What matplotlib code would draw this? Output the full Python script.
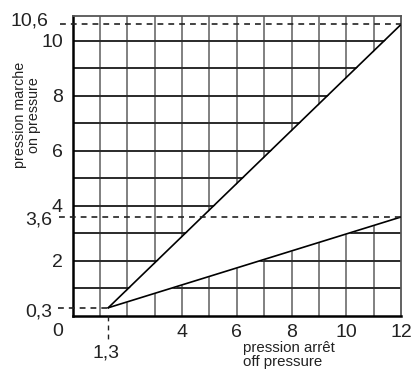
import numpy as np
import matplotlib.pyplot as plt

plt.rcParams['font.family'] = ['Liberation Sans', 'DejaVu Sans']

# data
x_ticks = [4, 6, 8, 10, 12]
y_ticks = [2, 4, 6, 8, 10]
grid_x = list(range(1, 12))
grid_y = list(range(1, 11))

start = (1.3, 0.3)
upper_end = (12, 10.6)
lower_end = (12, 3.6)

fig = plt.figure(figsize=(4.14, 3.77), dpi=100)
ax = fig.add_axes([0.1756, 0.1618, 0.7930, 0.7966])
ax.set_xlim(0, 12)
ax.set_ylim(0, 10.92)

# grid
for gx in grid_x:
    ax.axvline(gx, color='#808080', lw=1.4, zorder=1)
for gy in grid_y:
    ax.axhline(gy, color='#2a2a2a', lw=1.4, zorder=1)

# white wedge between the two lines
xs = np.array([start[0], 12])
up = np.array([start[1], upper_end[1]])
lo = np.array([start[1], lower_end[1]])
ax.fill_between(xs, lo, up, color='white', zorder=2, lw=0)
ax.plot([start[0], upper_end[0]], [start[1], upper_end[1]], color='black', lw=1.2, zorder=3)
ax.plot([start[0], lower_end[0]], [start[1], lower_end[1]], color='black', lw=1.2, zorder=3)

# dashed reference lines
dash = (0, (3.5, 3))
ax.plot([-0.45, 12], [10.6, 10.6], color='#222222', lw=1.2, ls=dash, clip_on=False, zorder=3)
ax.plot([-0.5, 12], [3.6, 3.6], color='#222222', lw=1.2, ls=dash, clip_on=False, zorder=3)
ax.plot([-0.55, 1.3], [0.3, 0.3], color='#222222', lw=1.2, ls=dash, clip_on=False, zorder=3)
ax.plot([1.3, 1.3], [0, -0.9], color='#222222', lw=1.0, ls=dash, clip_on=False, zorder=3)

# spines
for s in ['left', 'bottom']:
    ax.spines[s].set_linewidth(1.8)
    ax.spines[s].set_color('black')
for s in ['top', 'right']:
    ax.spines[s].set_linewidth(1.3)
    ax.spines[s].set_color('#555555')

fs = 14
ax.set_xticks(x_ticks)
ax.set_yticks(y_ticks)
ax.tick_params(length=0, labelsize=fs, colors='#222222')
ax.tick_params(axis='x', pad=6)
ax.tick_params(axis='y', pad=7)

# extra labels
ax.text(-0.88, 10.73, '10,6', ha='right', va='center', fontsize=fs, color='#222222', clip_on=False)
ax.text(-0.76, 3.49, '3,6', ha='right', va='center', fontsize=fs, color='#222222', clip_on=False)
ax.text(-0.76, 0.15, '0,3', ha='right', va='center', fontsize=fs, color='#222222', clip_on=False)
ax.text(-0.54, -0.57, '0', ha='center', va='center', fontsize=fs, color='#222222', clip_on=False)
ax.text(1.22, -1.35, '1,3', ha='center', va='center', fontsize=fs, color='#222222', clip_on=False)

fig.text(27 / 414, 1 - 168 / 377, 'pression marche\non pressure', rotation=90,
         ha='center', va='bottom', fontsize=10.3, color='#222222', linespacing=1.0)
fig.text(243 / 414, 1 - 341 / 377, 'pression arrêt\noff pressure',
         ha='left', va='top', fontsize=10.8, color='#222222', linespacing=1.0)

fig.savefig('out.png', dpi=100)
